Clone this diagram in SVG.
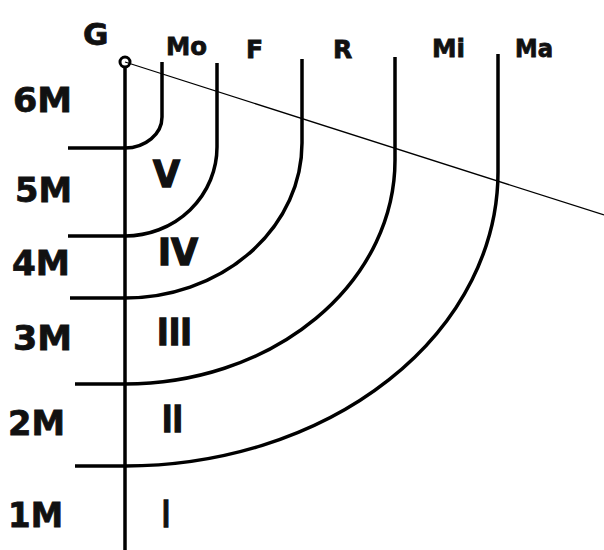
<svg xmlns="http://www.w3.org/2000/svg" width="604" height="550" viewBox="0 0 604 550">
<style>
.ln{fill:none;stroke:#000;stroke-width:3.5;stroke-linecap:butt}
.thin{fill:none;stroke:#000;stroke-width:1.3}
.t{font-family:"DejaVu Sans",sans-serif;font-weight:bold;fill:#111;stroke:#111;stroke-width:0.8}
.lbl{font-size:34px}
.top{font-size:25px}
.rom{font-size:38px;stroke-width:1.5}
</style>
<rect width="604" height="550" fill="#fff"/>
<g id="connectors">
<line class="thin" x1="125" y1="62" x2="604" y2="215"/>
<line class="ln" x1="125" y1="67" x2="125" y2="550"/>
<circle cx="125" cy="62" r="5" fill="none" stroke="#000" stroke-width="3"/>
<line class="ln" x1="68" y1="148" x2="125" y2="148"/>
<line class="ln" x1="68" y1="236" x2="125" y2="236"/>
<line class="ln" x1="70" y1="298" x2="125" y2="298"/>
<line class="ln" x1="75" y1="384" x2="125" y2="384"/>
<line class="ln" x1="75" y1="466" x2="125" y2="466"/>
</g>
<g id="Mo"><path class="ln" d="M162 62 V117 A37 31 0 0 1 125 148"/><text class="t top" x="166" y="55" textLength="41" lengthAdjust="spacingAndGlyphs">Mo</text></g>
<g id="F"><path class="ln" d="M217 63 V147 A92 89 0 0 1 125 236"/><text class="t top" x="246" y="58">F</text></g>
<g id="R"><path class="ln" d="M302 59 V143 A177 155 0 0 1 125 298"/><text class="t top" x="333" y="58">R</text></g>
<g id="Mi"><path class="ln" d="M395 57 V160 A270 224 0 0 1 125 384"/><text class="t top" x="432" y="57" textLength="33" lengthAdjust="spacingAndGlyphs">Mi</text></g>
<g id="Ma"><path class="ln" d="M498 54 V172 A373 294 0 0 1 125 466"/><text class="t top" x="515" y="57" textLength="38" lengthAdjust="spacingAndGlyphs">Ma</text></g>
<g id="G"><text class="t" style="font-size:31px" x="83" y="45">G</text></g>
<g id="levels">
<text class="t lbl" x="13" y="112" textLength="59" lengthAdjust="spacingAndGlyphs">6M</text>
<text class="t lbl" x="15" y="202" textLength="57" lengthAdjust="spacingAndGlyphs">5M</text>
<text class="t lbl" x="12" y="275" textLength="58" lengthAdjust="spacingAndGlyphs">4M</text>
<text class="t lbl" x="13" y="350" textLength="59" lengthAdjust="spacingAndGlyphs">3M</text>
<text class="t lbl" x="8" y="435" textLength="57" lengthAdjust="spacingAndGlyphs">2M</text>
<text class="t lbl" x="8" y="527" textLength="55" lengthAdjust="spacingAndGlyphs">1M</text>
</g>
<g id="zones">
<text class="t rom" x="153" y="187" textLength="27" lengthAdjust="spacingAndGlyphs">V</text>
<text class="t rom" x="158" y="265" textLength="40" lengthAdjust="spacingAndGlyphs">IV</text>
<text class="t rom" x="157" y="345" textLength="35" lengthAdjust="spacingAndGlyphs">III</text>
<text class="t rom" x="162" y="432" textLength="21" lengthAdjust="spacingAndGlyphs">II</text>
<text class="t rom" x="162" y="527" textLength="8" lengthAdjust="spacingAndGlyphs">I</text>
</g>
</svg>
